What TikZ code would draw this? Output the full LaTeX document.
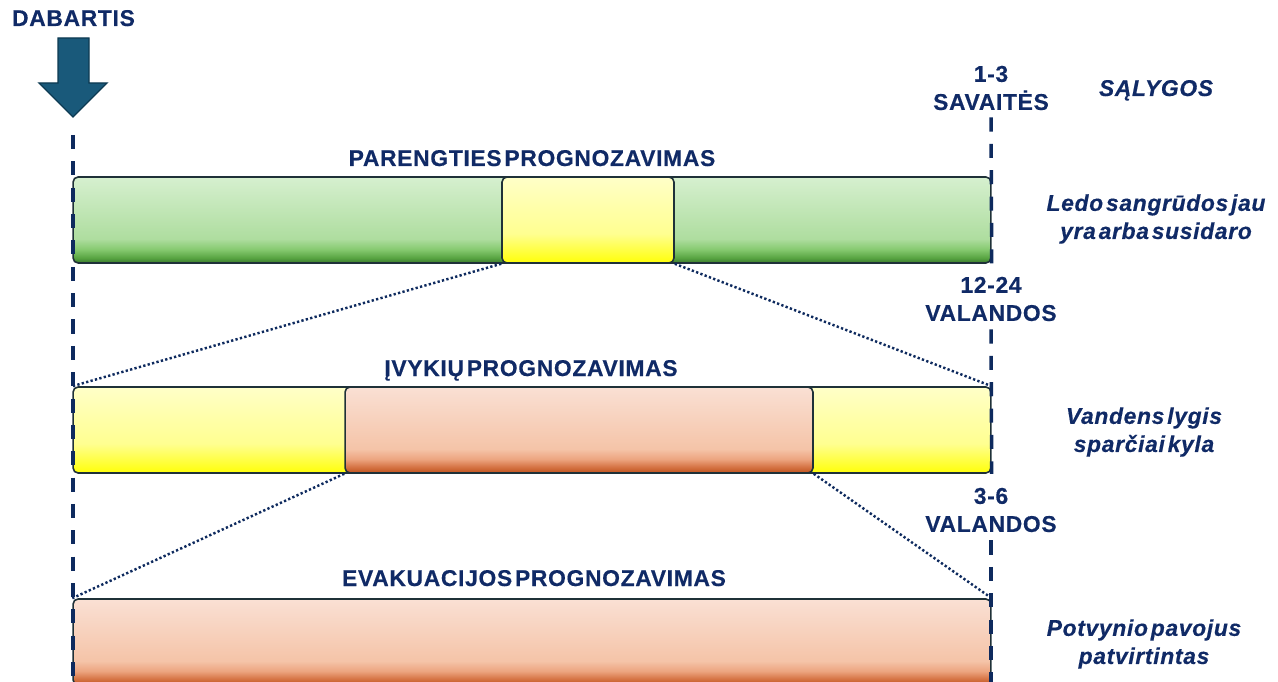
\documentclass[tikz,border=0pt]{standalone}
\usepackage{fontspec}
\setmainfont{Liberation Sans}[LetterSpace=3,WordSpace=0.4,BoldFeatures={FakeBold=0.4},BoldItalicFeatures={FakeBold=0.4}]
\usetikzlibrary{positioning}

\definecolor{navy}{HTML}{102A66}
\definecolor{guideblue}{HTML}{0E2A5E}
\definecolor{nowfill}{HTML}{19597A}
\definecolor{nowline}{HTML}{0D3A52}
\definecolor{barline}{HTML}{1F3138}

\definecolor{gA}{HTML}{3A7A2C}
\definecolor{gB}{HTML}{58A442}
\definecolor{gC}{HTML}{86CA70}
\definecolor{gD}{HTML}{AEDD9F}
\definecolor{gE}{HTML}{D6F0CF}
\definecolor{yA}{HTML}{FFFF08}
\definecolor{yB}{HTML}{FFFF40}
\definecolor{yC}{HTML}{FFFF90}
\definecolor{yD}{HTML}{FFFFC8}
\definecolor{sA}{HTML}{C0521C}
\definecolor{sB}{HTML}{D8784A}
\definecolor{sC}{HTML}{ECA47F}
\definecolor{sD}{HTML}{F5C4A8}
\definecolor{sE}{HTML}{FAE0D4}

\pgfdeclareverticalshading{greenbar}{100bp}{color(0bp)=(gA); color(25bp)=(gA); color(28bp)=(gB); color(33bp)=(gC); color(39bp)=(gD); color(75bp)=(gE); color(100bp)=(gE)}
\pgfdeclareverticalshading{yellowbar}{100bp}{color(0bp)=(yA); color(25bp)=(yA); color(32bp)=(yB); color(42bp)=(yC); color(75bp)=(yD); color(100bp)=(yD)}
\pgfdeclareverticalshading{salmonbar}{100bp}{color(0bp)=(sA); color(25bp)=(sA); color(29bp)=(sB); color(33bp)=(sC); color(39bp)=(sD); color(75bp)=(sE); color(100bp)=(sE)}

\tikzset{
  bar/.style={draw=barline, line width=0.9pt, rounded corners=0.1cm, inner sep=0pt, minimum height=1.72cm},
  guide/.style={draw=guideblue, line width=2pt, dash pattern=on 8pt off 7pt},
  zoomline/.style={draw=guideblue, line width=1.4pt, dash pattern=on 1.3pt off 1.3pt},
  lbl/.style={text=navy, font=\fontsize{13}{16}\selectfont\bfseries, align=center, inner sep=0pt},
  cond/.style={text=navy, font=\fontsize{13}{16}\selectfont\bfseries\itshape, align=center, inner sep=0pt}
}

\begin{document}
\begin{tikzpicture}[x=0.02cm, y=-0.02cm]
  \useasboundingbox (0,0) rectangle (1278,682);

  \begin{scope}
    \node[bar, shading=greenbar, minimum width=18.36cm] (prep) at (532,220) {};
    \node[bar, shading=yellowbar, minimum width=3.44cm] (prepwin) at (588,220) {};
    \node[bar, shading=yellowbar, minimum width=18.36cm] (event) at (532,430) {};
    \node[bar, shading=salmonbar, minimum width=9.36cm] (eventwin) at (579,430) {};
    \node[bar, shading=salmonbar, minimum width=18.36cm] (evac) at (532,642) {};
  \end{scope}

  \begin{scope}
    \path[zoomline] (prepwin.south west) -- (event.north west);
    \path[zoomline] (prepwin.south east) -- (event.north east);
    \path[zoomline] (eventwin.south west) -- (evac.north west);
    \path[zoomline] (eventwin.south east) -- (evac.north east);
  \end{scope}

  \begin{scope}[every node/.style={lbl}]
    \node[anchor=base] (now) at (73.5,26) {DABARTIS};
    \node[anchor=base] (preptitle) at (532,166) {PARENGTIES PROGNOZAVIMAS};
    \node[anchor=base] (eventtitle) at (531,376) {ĮVYKIŲ PROGNOZAVIMAS};
    \node[anchor=base] (evactitle) at (534,586) {EVAKUACIJOS PROGNOZAVIMAS};
    \node (weeks) at (991,88) {1-3\\SAVAITĖS};
    \node (hours1) at (991,299) {12-24\\VALANDOS};
    \node (hours2) at (991,510) {3-6\\VALANDOS};
  \end{scope}

  \coordinate (nowtop) at (73,135);
  \coordinate (nowbot) at (73,700);
  \coordinate (endbot) at (991,700);
  \path[guide] (nowtop) -- (nowbot);
  \path[guide] ([yshift=-0.14cm]weeks.south) -- (prep.south east);
  \path[guide] ([yshift=-0.16cm]hours1.south) -- (event.south east);
  \path[guide] ([yshift=-0.16cm]hours2.south) -- (endbot);

  \draw[fill=nowfill, draw=nowline, line width=0.8pt]
    (58,38) -- (89,38) -- (89,83) -- (107,83) -- (73,117) -- (39,83) -- (58,83) -- cycle;

  \begin{scope}[every node/.style={cond}]
    \node[anchor=base] (condhead) at (1156,96) {SĄLYGOS};
    \node (cond1) at (1156,219) {Ledo sangrūdos jau\\yra arba susidaro};
    \node (cond2) at (1144,432) {Vandens lygis\\sparčiai kyla};
    \node (cond3) at (1144,644) {Potvynio pavojus\\patvirtintas};
  \end{scope}
\end{tikzpicture}
\end{document}
